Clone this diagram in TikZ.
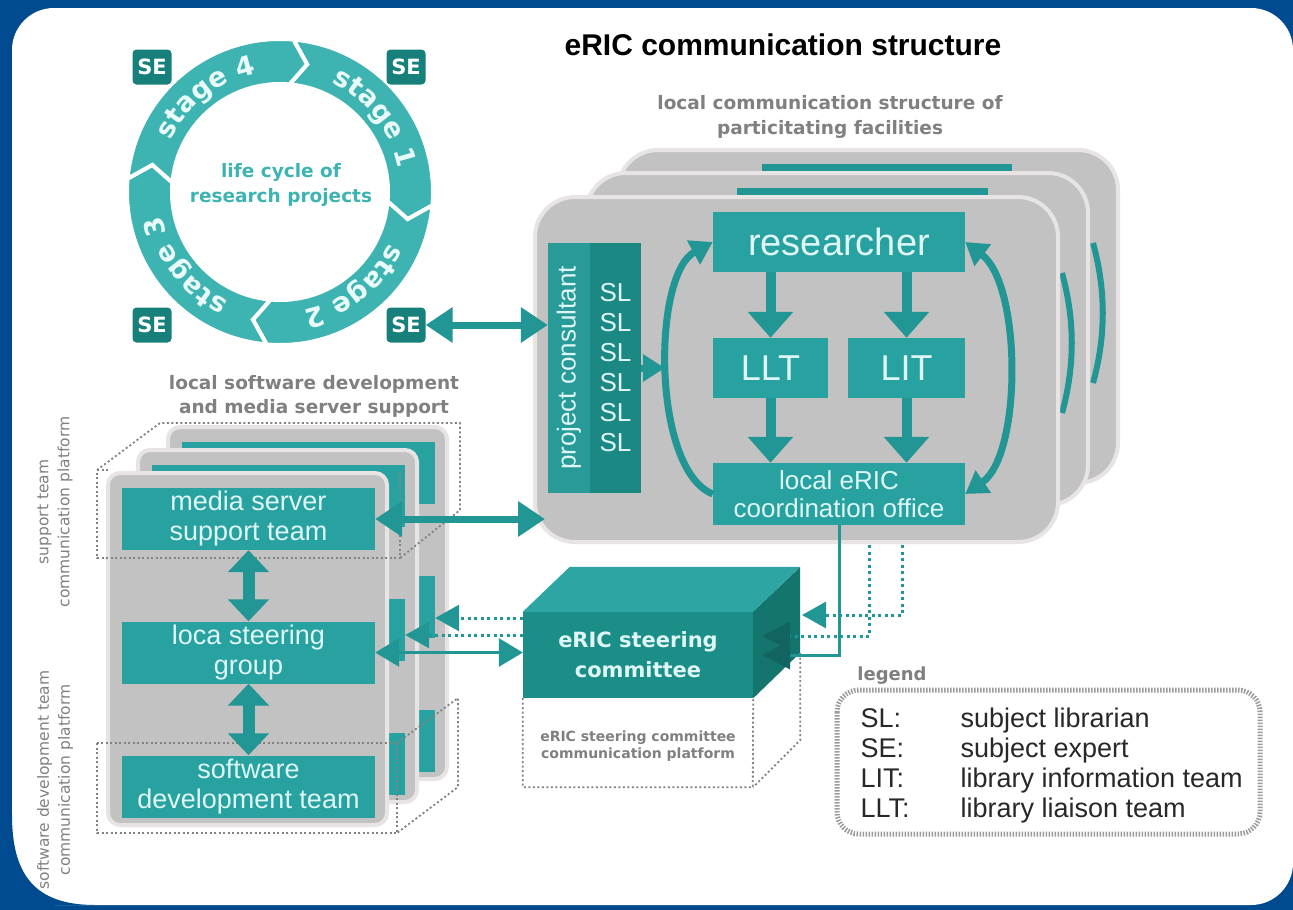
\documentclass[tikz,border=0pt]{standalone}
\usepackage{fontspec}
\setmainfont{Liberation Sans}
\newfontfamily\widefont{DejaVu Sans}
\usetikzlibrary{arrows.meta,calc,decorations.text}
\newcommand\setfs[2]{\fontsize{#1}{#2}\selectfont}
\newcommand\stagefont{\widefont\bfseries\fontsize{27}{27}\selectfont}
\definecolor{bgblue}{RGB}{0,74,143}
\definecolor{cyclecol}{RGB}{62,180,178}
\definecolor{boxteal}{RGB}{40,162,160}
\definecolor{arrowteal}{RGB}{34,150,148}
\definecolor{sedark}{RGB}{24,128,122}
\definecolor{pcteal}{RGB}{40,155,152}
\definecolor{sldark}{RGB}{28,136,131}
\definecolor{cmfront}{RGB}{27,142,136}
\definecolor{cmtop}{RGB}{45,165,162}
\definecolor{cmside}{RGB}{20,116,110}
\definecolor{panelgray}{RGB}{194,194,194}
\definecolor{panelrim}{RGB}{232,228,228}
\definecolor{boxtext}{RGB}{222,246,245}
\definecolor{stagetext}{RGB}{232,250,250}
\definecolor{lblgray}{RGB}{128,128,128}
\definecolor{platgray}{RGB}{130,130,130}
\definecolor{legink}{RGB}{40,40,40}
\definecolor{legrim}{RGB}{155,155,155}
\definecolor{headdark}{RGB}{18,100,96}
\begin{document}
\begin{tikzpicture}[x=1pt,y=-1pt,
    panel/.style={draw=panelrim,line width=4pt,fill=panelgray,rounded corners=40pt,inner sep=0pt},
    tealbox/.style={fill=boxteal,text=boxtext,inner sep=0pt,align=center},
    teambox/.style={tealbox,minimum width=253pt,minimum height=62pt,font=\setfs{27}{30}},
    sebox/.style={fill=sedark,text=white,rounded corners=4pt,minimum width=39pt,minimum height=35pt,inner sep=0pt,font=\widefont\bfseries\setfs{21}{22}},
    graylbl/.style={text=lblgray,align=center,font=\widefont\bfseries\setfs{18.5}{25}},
    sidelbl/.style={text=lblgray,align=center,rotate=90,font=\widefont\setfs{15.5}{21}},
    legtext/.style={text=legink,font=\setfs{27}{30}},
    vdown/.style={draw=arrowteal,line width=10pt,-{Triangle[width=44pt,length=26pt]}},
    vdbl/.style={draw=arrowteal,line width=12pt,{Triangle[width=40pt,length=22pt]}-{Triangle[width=40pt,length=22pt]}},
    dblarrow/.style={draw=arrowteal,line width=7pt,{Triangle[width=34pt,length=27pt]}-{Triangle[width=34pt,length=27pt]}},
    curvearr/.style={draw=arrowteal,line width=7pt,-{Triangle[width=26pt,length=22pt]}},
    curvedbl/.style={draw=arrowteal,line width=7pt,{Triangle[width=26pt,length=22pt]}-{Triangle[width=26pt,length=22pt]}},
    thinarr/.style={draw=arrowteal,line width=3pt},
    dotarr/.style={draw=arrowteal,line width=3pt,dash pattern=on 3pt off 3.5pt},
    tiphead/.style={-{Triangle[width=26pt,length=24pt]}},
    darkhead/.style={-{Triangle[width=28pt,length=28pt,color=headdark]}},
    dblthin/.style={{Triangle[width=28pt,length=24pt]}-{Triangle[width=28pt,length=24pt]}},
    platline/.style={draw=platgray,line width=1.8pt,dash pattern=on 2pt off 2.5pt},
    legendrim/.style={draw=legrim,line width=5pt,dash pattern=on 1.5pt off 1.5pt,rounded corners=22pt}]

  \useasboundingbox (0,0) rectangle (1293,910);
  % frame
  \fill[bgblue] (0,0) rectangle (1293,910);
  \fill[white,rounded corners=42pt] (12,8) rectangle (1293,905);
  \fill[bgblue] (12,905) -- (12,815) .. controls (12,875) and (35,905) .. (95,905) -- cycle;

  \node[font=\bfseries\setfs{30}{34}] (title) at (783,45) {eRIC communication structure};
  \node[graylbl] (loccap) at (830,117) {local communication structure of\\particitating facilities};
  \node[graylbl,font=\widefont\bfseries\setfs{18.5}{24}] (swcap) at (314,396) {local software development\\and media server support};

  % life cycle ring
  \begin{scope}[shift={(280,192)}]
    \foreach \ts/\txt in {-85/stage 1,5/stage 2,95/stage 3,-175/stage 4}{
      \pgfmathsetmacro\te{\ts+90}
      \pgfmathsetmacro\tip{\ts+97}
      \pgfmathsetmacro\notch{\ts+7}
      \fill[cyclecol,draw=white,line width=4pt,line join=miter]
        (\ts:153) arc[start angle=\ts,end angle=\te,radius=153]
        -- (\tip:130.5) -- (\te:108)
        arc[start angle=\te,end angle=\ts,radius=108]
        -- (\notch:130.5) -- cycle;
      \pgfmathsetmacro\ta{\ts+1}
      \pgfmathsetmacro\tb{\ts+93}
      \path[decorate,decoration={text along path,text align=center,
          text color=stagetext,text format delimiters={|}{|},
          text/.expanded={|\noexpand\stagefont|\txt}}]
        (\ta:121) arc[start angle=\ta,end angle=\tb,radius=121];
    }
  \end{scope}
  \node[font=\widefont\bfseries\setfs{18.5}{25},text=cyclecol,align=center] (lifecycle) at (281,185) {life cycle of\\research projects};
  \node[sebox] (seA) at (152,67) {SE};
  \node[sebox] (seB) at (406,67) {SE};
  \node[sebox] (seC) at (152,325) {SE};
  \node[sebox] (seD) at (406,325) {SE};

  % participating facilities
  \node[panel,minimum width=500pt,minimum height=333pt] (facB) at (868,316.5) {};
  \fill[arrowteal] (762,164) rectangle (1012,171);
  \draw[arrowteal,line width=6pt] (1093,243) .. controls (1106,290) and (1106,336) .. (1093,383);
  \node[panel,minimum width=502pt,minimum height=332pt] (facM) at (837,339) {};
  \fill[arrowteal] (737,188) rectangle (988,195);
  \draw[arrowteal,line width=6pt] (1062,273) .. controls (1075,320) and (1075,366) .. (1062,413);
  \node[panel,minimum width=523pt,minimum height=345pt] (facF) at (796.5,369.5) {};

  \node[tealbox,minimum width=252pt,minimum height=60pt,font=\setfs{38}{40}] (researcher) at (839,242) {researcher};
  \node[tealbox,minimum width=115pt,minimum height=60pt,font=\setfs{36}{40}] (llt) at (770.5,368) {LLT};
  \node[tealbox,minimum width=117pt,minimum height=60pt,font=\setfs{36}{40}] (lit) at (906.5,368) {LIT};
  \node[tealbox,minimum width=252pt,minimum height=62pt,font=\setfs{26}{28}] (office) at (839,494) {local eRIC\\coordination office};
  \node[fill=pcteal,minimum width=42pt,minimum height=250pt,inner sep=0pt] (pcstrip) at (569,368) {};
  \node[rotate=90,text=boxtext,font=\setfs{26}{28}] (pclabel) at (pcstrip.center) {project consultant};
  \node[fill=sldark,minimum width=51pt,minimum height=250pt,inner sep=0pt,align=center,text=boxtext,font=\setfs{26}{30}] (slbox) at (615.5,368) {SL\\SL\\SL\\SL\\SL\\SL};

  \draw[vdown] (researcher.south -| llt) -- (llt.north);
  \draw[vdown] (researcher.south -| lit) -- (lit.north);
  \draw[vdown] (llt.south) -- (office.north -| llt);
  \draw[vdown] (lit.south) -- (office.north -| lit);
  \draw[curvearr] (office.west) .. controls (652,470) and (652,275) .. (researcher.west);
  \draw[curvedbl] (researcher.east) .. controls (1022,285) and (1022,455) .. (office.east);
  \coordinate (pcin) at (665,368);
  \draw[curvearr] (slbox.east) -- (pcin);
  \draw[dblarrow] (seD.east) -- (seD.east -| pcstrip.west);

  % local software development and media server support
  \foreach \dx/\dy/\lay in {60/-46/B,30/-23/M}{
    \begin{scope}[shift={(\dx,\dy)}]
      \node[panel,rounded corners=12pt,minimum width=279pt,minimum height=352pt] (sw\lay) at (247.5,649) {};
      \node[teambox] (media\lay) at (248.5,519) {};
      \node[teambox] (steer\lay) at (248.5,652.5) {};
      \node[teambox] (soft\lay) at (248.5,786.5) {};
    \end{scope}
  }
  \node[panel,rounded corners=12pt,minimum width=279pt,minimum height=352pt] (swF) at (247.5,649) {};
  \node[teambox] (mediaF) at (248.5,519) {media server\\support team};
  \node[teambox] (steerF) at (248.5,652.5) {loca steering\\group};
  \node[teambox] (softF) at (248.5,786.5) {software\\development team};

  % communication platforms
  \draw[platline] (108,470) -- (97,470) -- (97,558) -- (400,558) -- (400,470);
  \draw[platline] (97,470) -- (160,423) -- (460,423) -- (460,510) -- (400,558);
  \draw[platline] (97,743) rectangle (397,833);
  \draw[platline] (397,743) -- (458,698) -- (458,787) -- (397,833);

  \draw[vdbl] (mediaF) -- (steerF);
  \draw[vdbl] (steerF) -- (softF);
  \draw[dblarrow] (mediaF.east) -- ($(facF.west |- mediaF.east)+(12,0)$);

  % steering committee
  \node[fill=cmfront,text=boxtext,font=\widefont\bfseries\setfs{21}{30},align=center,minimum width=230pt,minimum height=86pt,inner sep=0pt] (committee) at (638,655) {eRIC steering\\committee};
  \fill[cmtop] (committee.north west) -- ++(47,-45) -- ++(230,0) -- (committee.north east) -- cycle;
  \fill[cmside] (committee.north east) -- ++(47,-45) -- ++(0,86) -- (committee.south east) -- cycle;
  \draw[platline] (committee.south west) -- ++(0,89) -- ++(230,0) -- (committee.south east);
  \draw[platline] ($(committee.south east)+(47,-45)$) -- ++(0,87) -- ($(committee.south east)+(0,89)$);
  \node[text=lblgray,align=center,font=\widefont\bfseries\setfs{14}{17}] (cmplat) at (638,746) {eRIC steering committee\\communication platform};

  \coordinate (dropA) at (902,545);
  \coordinate (dropB) at (869,545);
  \coordinate (tipA) at (802,615);
  \coordinate (tipB) at (762,636);
  \coordinate (tipC) at (762,655);
  \draw[dotarr,tiphead] (dropA) |- (tipA);
  \draw[dotarr,darkhead] (dropB) |- (tipB);
  \draw[thinarr,darkhead] (office.south) |- (tipC);
  \draw[dotarr,tiphead] (committee.west |- 0,618) -- (steerB.east |- 0,618);
  \draw[dotarr,tiphead] (committee.west |- 0,635) -- (steerM.east |- 0,635);
  \draw[thinarr,dblthin] (steerF.east) -- (steerF.east -| committee.west);

  % legend
  \node[font=\widefont\bfseries\setfs{18}{20},text=lblgray] (legcap) at (892,676) {legend};
  \draw[legendrim] (837,690) rectangle (1260,834);
  \foreach \abbr/\expl [count=\i] in {SL/subject librarian,SE/subject expert,LIT/library information team,LLT/library liaison team}{
    \node[legtext,anchor=base west] (key\i) at (857,{697+30*\i}) {\abbr:};
    \node[legtext,anchor=base west] (desc\i) at (957,{697+30*\i}) {\expl};
  }

  \node[sidelbl] (suplat) at (55,512) {support team\\communication platform};
  \node[sidelbl] (devplat) at (55,780) {software development team\\communication platform};
\end{tikzpicture}
\end{document}
